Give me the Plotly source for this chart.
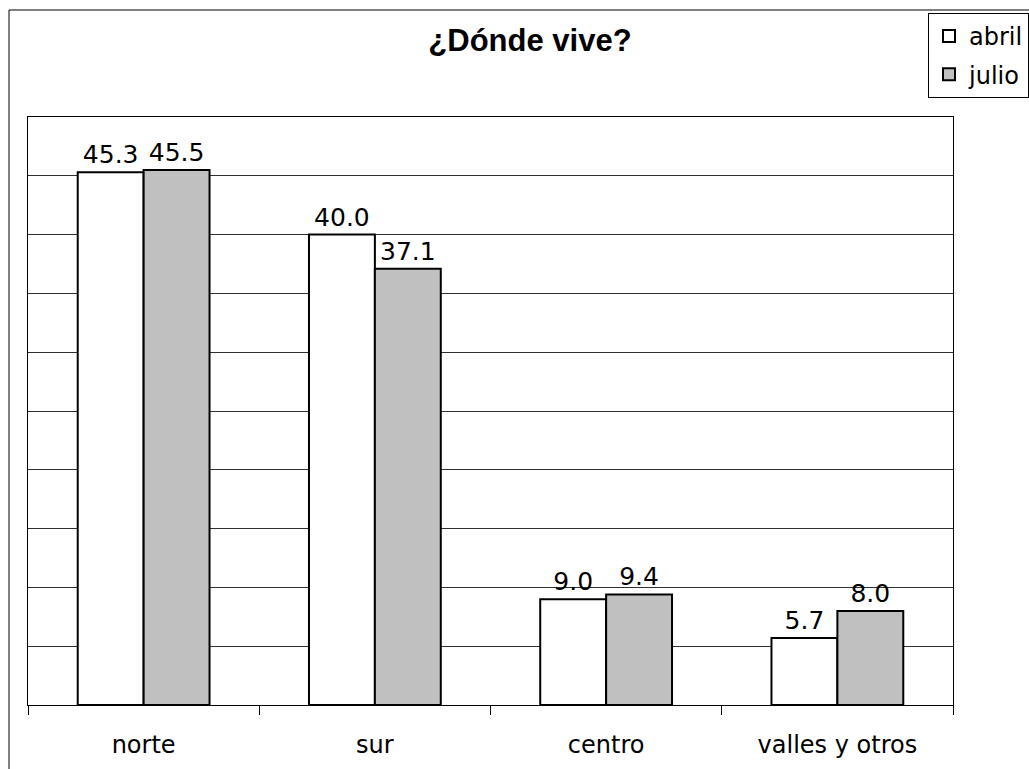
import plotly.graph_objects as go

categories = ["norte", "sur", "centro", "valles y otros"]
abril = [45.3, 40.0, 9.0, 5.7]
julio = [45.5, 37.1, 9.4, 8.0]
series_names = ["abril", "julio"]

W, H = 1029, 769
L, R, T, B = 28, 76, 117, 64
pw, ph = W - L - R, H - T - B

def px_x(p):
    return (p - L) / pw

def px_y(p):
    return (H - B - p) / ph

font_fam = "'DejaVu Sans', sans-serif"

fig = go.Figure()
fig.add_trace(go.Bar(
    x=categories, y=abril, name=series_names[0], legendgroup="a",
    marker=dict(color="white", line=dict(color="black", width=2)),
    text=[f"{v:.1f}" for v in abril], textposition="outside",
    textfont=dict(size=25, color="black", family=font_fam),
    cliponaxis=False,
))
fig.add_trace(go.Bar(
    x=categories, y=julio, name=series_names[1], legendgroup="b",
    marker=dict(color="#c0c0c0", line=dict(color="black", width=2)),
    text=[f"{v:.1f}" for v in julio], textposition="outside",
    textfont=dict(size=25, color="black", family=font_fam),
    cliponaxis=False,
))

fig.update_layout(
    width=W, height=H,
    margin=dict(l=L, r=R, t=T, b=B, autoexpand=False),
    paper_bgcolor="white", plot_bgcolor="white",
    barmode="group", bargap=0.43, bargroupgap=0,
    title=dict(text="<b>¿Dónde vive?</b>", x=530 / W, xanchor="center",
               y=1 - 40 / H, yanchor="middle",
               font=dict(size=31, color="black", family="'Liberation Sans', Arial, sans-serif")),
    legend=dict(xref="container", yref="container",
                x=928 / W, y=1 - 13 / H, xanchor="left", yanchor="top",
                bgcolor="white", bordercolor="black", borderwidth=1,
                font=dict(size=24, color="black", family=font_fam),
                tracegroupgap=4, itemwidth=30),
    showlegend=True,
)
fig.update_xaxes(
    showline=True, linecolor="black", linewidth=1, mirror=True,
    ticks="outside", ticklen=9, tickcolor="black", tickson="boundaries",
    ticklabelstandoff=18,
    tickfont=dict(size=24, color="black", family=font_fam),
    showgrid=False,
)
fig.update_yaxes(
    range=[0, 50], dtick=5, showticklabels=False,
    showline=True, linecolor="black", linewidth=1, mirror=True,
    showgrid=True, gridcolor="#303030", gridwidth=1,
    zeroline=False, ticks="",
)
# outer chart border
fig.add_shape(type="rect", xref="paper", yref="paper",
              x0=px_x(9), x1=px_x(1100), y0=px_y(10), y1=px_y(900),
              line=dict(color="black", width=1), fillcolor="rgba(0,0,0,0)",
              layer="below")

fig.write_html("out.html")
